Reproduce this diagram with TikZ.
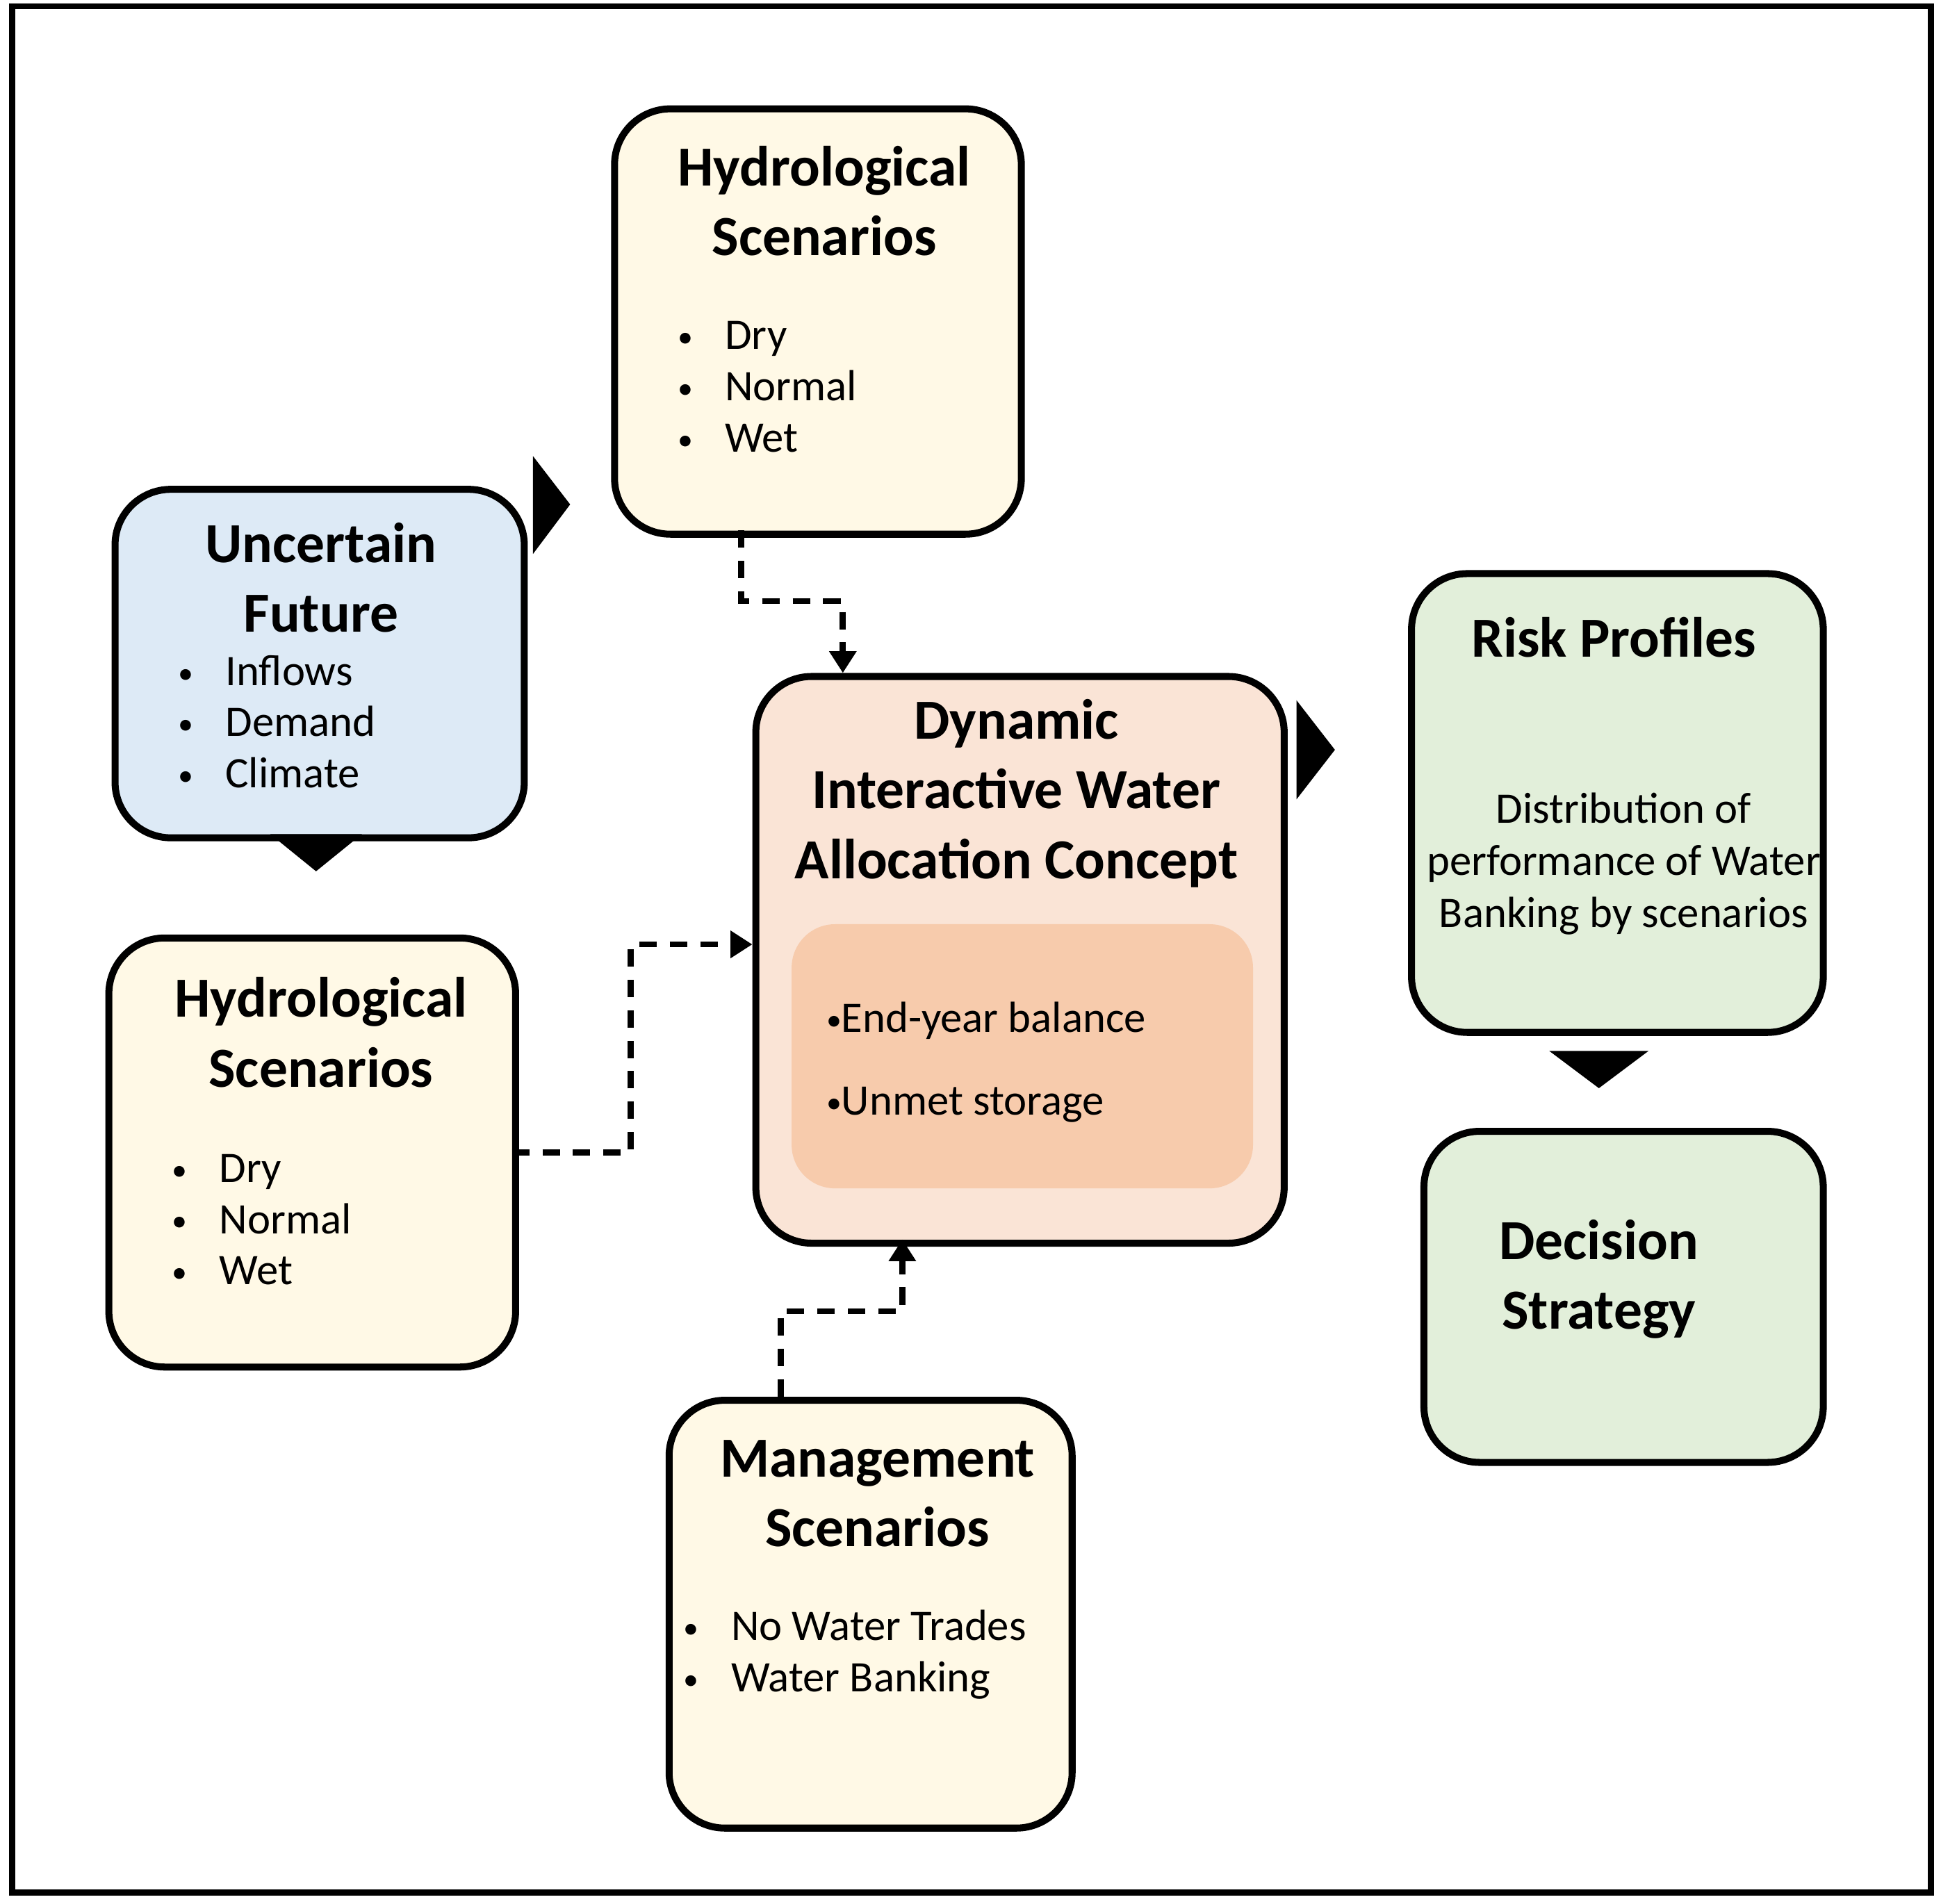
\documentclass[tikz,border=0pt]{standalone}
\usepackage{fontspec}
\setmainfont{Carlito}
\usetikzlibrary{arrows.meta}
\definecolor{hydrofill}{RGB}{255,249,230}
\definecolor{futurefill}{RGB}{221,234,246}
\definecolor{conceptfill}{RGB}{250,228,214}
\definecolor{innerfill}{RGB}{247,203,172}
\definecolor{riskfill}{RGB}{226,239,218}
\tikzset{
  box/.style={draw=black, line width=1.6pt, rounded corners=0.45cm, anchor=north west, inner sep=0pt},
  title/.style={font=\fontsize{13}{16}\selectfont\bfseries, align=center},
  items/.style={font=\fontsize{10}{12}\selectfont, anchor=west, inner sep=0pt},
  link/.style={dashed, line width=1.4pt, dash pattern=on 4pt off 3pt, -{Triangle[length=5pt,width=6pt]}},
  pointer/.style={fill=black, draw=none}
}
\newcommand{\blist}[1]{{\renewcommand{\arraystretch}{0.98}\begin{tabular}{@{}l@{\hspace{0.26cm}}l@{}}#1\end{tabular}}}
\newcommand{\bul}{\raisebox{0.5pt}{\scriptsize\textbullet}}
\begin{document}
\begin{tikzpicture}[x=0.01cm, y=-0.01cm]
  \useasboundingbox (0,0) rectangle (1566,1536);
  \draw[line width=1.4pt] (10,5) rectangle (1558,1527);

  % boxes
  \node[box, fill=hydrofill, minimum width=3.28cm, minimum height=3.43cm] (hydtop) at (493,85) {};
  \node[box, fill=futurefill, minimum width=3.30cm, minimum height=2.81cm] (future) at (90,392) {};
  \node[box, fill=hydrofill, minimum width=3.28cm, minimum height=3.46cm] (hydleft) at (85,754) {};
  \node[box, fill=conceptfill, minimum width=4.26cm, minimum height=4.57cm] (concept) at (607,543) {};
  \node[fill=innerfill, rounded corners=0.35cm, anchor=north west, minimum width=3.72cm, minimum height=2.13cm] (inner) at (638,745) {};
  \node[box, fill=hydrofill, minimum width=3.25cm, minimum height=3.45cm] (mgmt) at (537,1127) {};
  \node[box, fill=riskfill, minimum width=3.32cm, minimum height=3.70cm] (risk) at (1136,460) {};
  \node[box, fill=riskfill, minimum width=3.22cm, minimum height=2.67cm] (decision) at (1146,910) {};

  % texts
  \node[title] (hydtoptitle) at (665,162) {Hydrological\\Scenarios};
  \node[items] (hydtopitems) at (546,315) {\blist{\bul & Dry\\ \bul & Normal\\ \bul & Wet}};
  \node[title] (futuretitle) at (259,466) {Uncertain\\Future};
  \node[items] (futureitems) at (143,586) {\blist{\bul & Inflows\\ \bul & Demand\\ \bul & Climate}};
  \node[title] (hydlefttitle) at (259,833) {Hydrological\\Scenarios};
  \node[items] (hydleftitems) at (138,987) {\blist{\bul & Dry\\ \bul & Normal\\ \bul & Wet}};
  \node[title] (concepttitle) at (820,640) {Dynamic\\Interactive Water\\Allocation Concept};
  \node[items] (inneritems) at (666,858) {\begin{tabular}{@{}l@{}}\bul End-year balance\\[7pt] \bul Unmet storage\end{tabular}};
  \node[title] (mgmttitle) at (708,1205) {Management\\Scenarios};
  \node[items] (mgmtitems) at (551,1336) {\blist{\bul & No Water Trades\\ \bul & Water Banking}};
  \node[title] (risktitle) at (1302,514) {Risk Profiles};
  \node[font=\fontsize{10}{12}\selectfont, align=center] (risktext) at (1310,697) {Distribution of\\performance of Water\\Banking by scenarios};
  \node[title] (decisiontitle) at (1290,1032) {Decision\\Strategy};

  % pointers
  \fill[pointer] (430,368) -- (460,407) -- (430,447) -- cycle;
  \fill[pointer] (1046,565) -- (1077,605) -- (1046,645) -- cycle;
  \fill[pointer] (218,673) -- (292,673) -- (255,703) -- cycle;
  \fill[pointer] (1250,848) -- (1330,848) -- (1290,878) -- cycle;

  % dashed links
  \coordinate (a1) at (598,428);
  \coordinate (a2) at (680,543);
  \draw[link] (a1) -- (598,485) -| (a2);
  \coordinate (b1) at (413,930);
  \coordinate (b2) at (607,762);
  \draw[link] (b1) -- (509,930) |- (b2);
  \coordinate (c1) at (630,1127);
  \coordinate (c2) at (728,1000);
  \draw[link] (c1) -- (630,1058) -| (c2);
\end{tikzpicture}
\end{document}
